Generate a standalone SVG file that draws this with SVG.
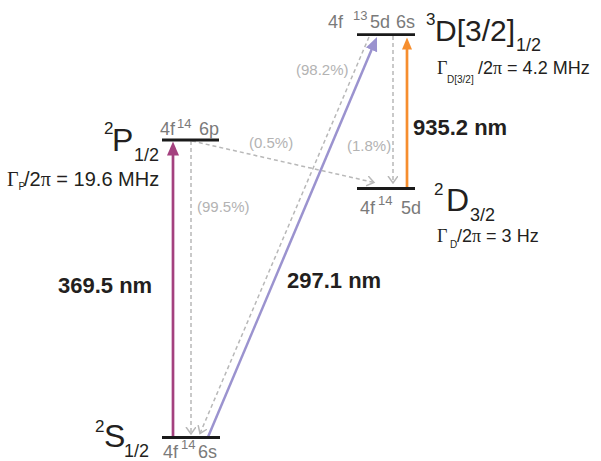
<svg xmlns="http://www.w3.org/2000/svg" width="601" height="461" viewBox="0 0 601 461">
<style>
.lvl{stroke:#1a1a1a;stroke-width:2.8;fill:none}
.cfg{font-family:"Liberation Sans",Arial,sans-serif;font-size:18px;fill:#7a7a7a}
.sup{font-family:"Liberation Sans",Arial,sans-serif;font-size:13px;fill:#7a7a7a}
.pct{font-family:"Liberation Sans",Arial,sans-serif;font-size:15px;fill:#b3b3b3}
.wl{font-family:"Liberation Sans",Arial,sans-serif;font-size:22px;font-weight:bold;fill:#231f20}
.big{font-family:"Liberation Sans",Arial,sans-serif;font-size:32px;fill:#231f20}
.big3{font-family:"Liberation Sans",Arial,sans-serif;font-size:30px;fill:#231f20}
.bsup{font-family:"Liberation Sans",Arial,sans-serif;font-size:17px;fill:#231f20}
.bsub{font-family:"Liberation Sans",Arial,sans-serif;font-size:18px;fill:#231f20}
.gam{font-family:"Liberation Sans",Arial,sans-serif;font-size:18px;fill:#231f20}
.gamP{font-family:"Liberation Sans",Arial,sans-serif;font-size:20px;fill:#231f20}
.ser{font-family:"Liberation Serif","Times New Roman",serif}
.gsub{font-family:"Liberation Sans",Arial,sans-serif;font-size:10px;fill:#231f20}
.dash{stroke:#b8b8b8;stroke-width:1.5;stroke-dasharray:4 3;fill:none}
</style>
<defs>
<marker id="hM" markerUnits="userSpaceOnUse" markerWidth="16" markerHeight="14" refX="2" refY="6" orient="auto" viewBox="0 0 16 14"><path d="M0,0 L14,6 L0,12 z" fill="#a4417f"/></marker>
<marker id="hO" markerUnits="userSpaceOnUse" markerWidth="14" markerHeight="12" refX="2" refY="5" orient="auto" viewBox="0 0 14 12"><path d="M0,0 L12,5 L0,10 z" fill="#f68e2e"/></marker>
<marker id="hL" markerUnits="userSpaceOnUse" markerWidth="16" markerHeight="14" refX="2" refY="6" orient="auto" viewBox="0 0 16 14"><path d="M0,0 L14,6 L0,12 z" fill="#9b93cf"/></marker>
<marker id="hG" markerUnits="userSpaceOnUse" markerWidth="10" markerHeight="12" refX="7" refY="5" orient="auto" viewBox="0 0 10 12"><path d="M0,0 L7,5 L0,10" fill="none" stroke="#b8b8b8" stroke-width="1.5"/></marker>
</defs>

<g id="connectors">
<line x1="173" y1="437" x2="173" y2="153.5" stroke="#a4417f" stroke-width="2.7" marker-end="url(#hM)"/>
<line x1="407" y1="188" x2="407" y2="47.5" stroke="#f68e2e" stroke-width="2.7" marker-end="url(#hO)"/>
<line x1="208" y1="437" x2="372.3" y2="48.1" stroke="#9b93cf" stroke-width="2.5" marker-end="url(#hL)"/>
<line class="dash" x1="191" y1="141" x2="191" y2="434" marker-end="url(#hG)"/>
<line class="dash" x1="192" y1="141" x2="374" y2="182.5" marker-end="url(#hG)"/>
<line class="dash" x1="393" y1="36" x2="393" y2="183" marker-end="url(#hG)"/>
<line class="dash" x1="369" y1="37" x2="200" y2="433.5" marker-end="url(#hG)"/>
<text class="pct" x="296" y="75">(98.2%)</text>
<text class="pct" x="249" y="148">(0.5%)</text>
<text class="pct" x="347" y="151">(1.8%)</text>
<text class="pct" x="197" y="212">(99.5%)</text>
<text class="wl" x="58" y="293">369.5 nm</text>
<text class="wl" x="287" y="288">297.1 nm</text>
<text class="wl" x="413" y="135">935.2 nm</text>
</g>

<g id="S12">
<line class="lvl" x1="162" y1="437.5" x2="220" y2="437.5"/>
<text class="cfg" x="163" y="458">4f</text>
<text class="sup" x="181" y="449">14</text>
<text class="cfg" x="198" y="458">6s</text>
<text class="bsup" x="95" y="432">2</text>
<text class="big" x="104" y="447">S</text>
<text class="bsub" x="124" y="457">1/2</text>
</g>

<g id="P12">
<line class="lvl" x1="162" y1="140" x2="219" y2="140"/>
<text class="cfg" x="160" y="135">4f</text>
<text class="sup" x="177" y="128">14</text>
<text class="cfg" x="199" y="135">6p</text>
<text class="bsup" x="104" y="134">2</text>
<text class="big" x="112" y="151">P</text>
<text class="bsub" x="134" y="161">1/2</text>
<text class="gamP" x="7" y="186"><tspan class="ser">Γ</tspan></text>
<text class="gsub" x="18.5" y="190">P</text>
<text class="gamP" x="24" y="186">/2<tspan class="ser">π</tspan> = 19.6 MHz</text>
</g>

<g id="D32">
<line class="lvl" x1="357" y1="188.5" x2="415" y2="188.5"/>
<text class="cfg" x="360" y="214">4f</text>
<text class="sup" x="378" y="205">14</text>
<text class="cfg" x="401" y="214">5d</text>
<text class="bsup" x="434" y="195">2</text>
<text class="big" x="446" y="211">D</text>
<text class="bsub" x="470" y="221">3/2</text>
<text class="gam" x="437" y="242"><tspan class="ser">Γ</tspan></text>
<text class="gsub" x="450" y="248">D</text>
<text class="gam" x="457" y="242">/2<tspan class="ser">π</tspan> = 3 Hz</text>
</g>

<g id="D3212">
<line class="lvl" x1="357" y1="34.7" x2="415" y2="34.7"/>
<text class="cfg" x="328" y="28">4f</text>
<text class="sup" x="353" y="20">13</text>
<text class="cfg" x="370" y="28">5d</text>
<text class="cfg" x="396" y="28">6s</text>
<text class="bsup" x="426" y="25">3</text>
<text class="big3" x="435" y="41">D[3/2]</text>
<text class="bsub" x="516" y="51">1/2</text>
<text class="gam" x="437" y="74"><tspan class="ser">Γ</tspan></text>
<text class="gsub" x="447" y="83">D[3/2]</text>
<text class="gam" x="478" y="74">/2<tspan class="ser">π</tspan> = 4.2 MHz</text>
</g>
</svg>
